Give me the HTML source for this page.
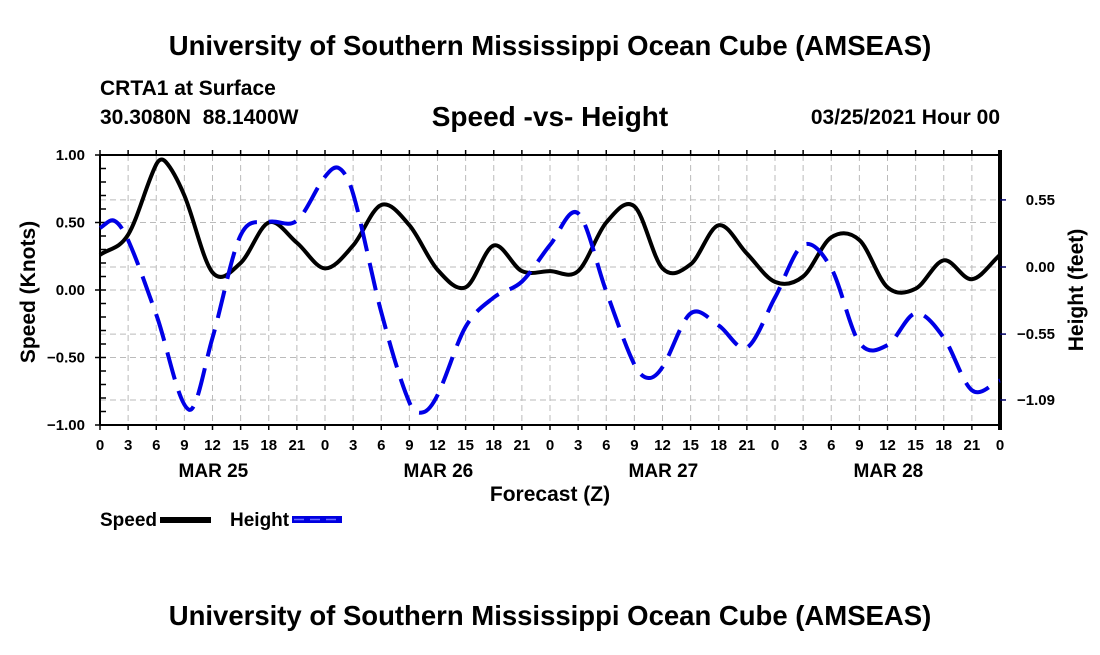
<!DOCTYPE html>
<html><head><meta charset="utf-8"><style>
body{margin:0;background:#fff;width:1100px;height:650px;overflow:hidden}
svg text{font-family:"Liberation Sans",sans-serif;font-weight:bold;fill:#000}
</style></head><body>
<svg id="chart" width="1100" height="650" viewBox="0 0 1100 650" xmlns="http://www.w3.org/2000/svg">
<rect width="1100" height="650" fill="#fff"/>
<text x="550" y="55" font-size="27.5" text-anchor="middle">University of Southern Mississippi Ocean Cube (AMSEAS)</text>
<text x="100" y="95" font-size="21">CRTA1 at Surface</text>
<text x="100" y="124" font-size="21">30.3080N&#160;&#160;88.1400W</text>
<text x="550" y="126" font-size="28" text-anchor="middle">Speed -vs- Height</text>
<text x="1000" y="124" font-size="21" text-anchor="end">03/25/2021 Hour 00</text>
<g id="grid"></g>
<g id="axes"></g>
<g id="series"></g>
<text transform="translate(35,292) rotate(-90)" font-size="21" text-anchor="middle">Speed (Knots)</text>
<text transform="translate(1083,290) rotate(-90)" font-size="21" text-anchor="middle">Height (feet)</text>
<text x="550" y="501" font-size="21" text-anchor="middle">Forecast (Z)</text>
<g>
<text x="100" y="526" font-size="19">Speed</text>
<rect x="160" y="517" width="51" height="6" fill="#000"/>
<text x="230" y="526" font-size="19">Height</text>
<rect x="292" y="516" width="50" height="7" fill="#0000e0"/>
<line x1="294" y1="519.5" x2="342" y2="519.5" stroke="#6a6aff" stroke-width="1.5" stroke-dasharray="10,6"/>
</g>
<text x="550" y="625" font-size="27.5" text-anchor="middle">University of Southern Mississippi Ocean Cube (AMSEAS)</text>
</svg>
<script>
const speedHours=[0,3,6,7,9,12,15,18,21,24,27,30,33,36,39,42,45,48,51,54,57,60,63,66,69,72,75,78,81,84,87,90,93,96];
const speedValues=[0.26,0.41,0.93,0.95,0.70,0.13,0.2,0.5,0.35,0.16,0.33,0.63,0.48,0.15,0.02,0.33,0.14,0.14,0.14,0.5,0.62,0.16,0.19,0.48,0.27,0.06,0.1,0.39,0.37,0.02,0.01,0.22,0.08,0.26];
const heightHours=[0,1.5,3,6,9.5,12,15,18,21,24,25.5,27,30,33,34.5,36,39,42,45,48,51,54,57,58.5,60,63,66,69,72,75,78,81,84,87,90,93,96];
const heightValues=[0.32,0.38,0.22,-0.39,-1.17,-0.58,0.26,0.37,0.38,0.74,0.81,0.6,-0.37,-1.11,-1.19,-1.05,-0.49,-0.25,-0.12,0.18,0.44,-0.2,-0.80,-0.91,-0.82,-0.38,-0.48,-0.66,-0.25,0.18,-0.01,-0.62,-0.64,-0.38,-0.58,-1.01,-0.93];
const xTickLabels=["0","3","6","9","12","15","18","21"];
const dayLabels=["MAR 25","MAR 26","MAR 27","MAR 28"];
const leftTicks=[1,0.5,0,-0.5,-1];
const leftTickLabels=["1.00","0.50","0.00","\u22120.50","\u22121.00"];
const rightTicks=[0.55,0,-0.55,-1.09];
const rightTickLabels=["0.55","0.00","\u22120.55","\u22121.09"];

const NS="http://www.w3.org/2000/svg";
const X0=100,X1=1000,Y0=155,Y1=425;
const xs=h=>X0+(X1-X0)*h/96;
const ys=v=>290-135*v;
const yh=v=>267-122*v;
function mk(tag,attrs,parent){const e=document.createElementNS(NS,tag);for(const k in attrs)e.setAttribute(k,attrs[k]);parent.appendChild(e);return e;}
const grid=document.getElementById('grid'),axes=document.getElementById('axes'),series=document.getElementById('series');
for(let h=3;h<96;h+=3){const l=mk('line',{x1:xs(h),x2:xs(h),y1:Y0,y2:Y1,stroke:'#bbb','stroke-width':1,'stroke-dasharray':'6,4'},grid);

}
leftTicks.forEach(v=>{if(v===1||v===-1)return;const l=mk('line',{x1:X0,x2:X1,y1:ys(v),y2:ys(v),stroke:'#bbb','stroke-width':1,'stroke-dasharray':'6,4'},grid);

});
rightTicks.forEach(v=>{const l=mk('line',{x1:X0,x2:X1,y1:yh(v),y2:yh(v),stroke:'#bbb','stroke-width':1,'stroke-dasharray':'6,4'},grid);

});
mk('line',{x1:X0,x2:X1,y1:Y0,y2:Y0,stroke:'#000','stroke-width':2},axes);
mk('line',{x1:X0,x2:X1,y1:Y1,y2:Y1,stroke:'#000','stroke-width':2},axes);
mk('line',{x1:X0,x2:X0,y1:Y0,y2:Y1,stroke:'#000','stroke-width':2},axes);
mk('line',{x1:X1,x2:X1,y1:Y0-5,y2:Y1+5,stroke:'#000','stroke-width':4},axes);
for(let h=0;h<=96;h+=3){
mk('line',{x1:xs(h),x2:xs(h),y1:Y0-5,y2:Y0,stroke:'#000','stroke-width':1.5},axes);
mk('line',{x1:xs(h),x2:xs(h),y1:Y1,y2:Y1+5,stroke:'#000','stroke-width':1.5},axes);
const t=mk('text',{x:xs(h),y:450,'font-size':15,'text-anchor':'middle'},axes);
t.textContent=xTickLabels[(h/3)%8];

}
dayLabels.forEach((d,i)=>{const t=mk('text',{x:xs(9+24*i)+29,y:477,'font-size':19,'text-anchor':'middle'},axes);
t.textContent=d;

});
for(let v=-1;v<=1.001;v+=0.1){mk('line',{x1:X0,x2:X0+6,y1:ys(v),y2:ys(v),stroke:'#000','stroke-width':1.5},axes);}
leftTicks.forEach((v,i)=>{mk('line',{x1:X0-5,x2:X0,y1:ys(v),y2:ys(v),stroke:'#000','stroke-width':1.5},axes);
const t=mk('text',{x:85,y:ys(v)+5,'font-size':15,'text-anchor':'end'},axes);
t.textContent=leftTickLabels[i];

});
rightTicks.forEach((v,i)=>{mk('line',{x1:X1,x2:X1+6,y1:yh(v),y2:yh(v),stroke:'#000066','stroke-width':1.5},axes);
const t=mk('text',{x:1055,y:yh(v)+5,'font-size':15,'text-anchor':'end'},axes);
t.textContent=rightTickLabels[i];

});
// non-uniform cubic Hermite (Catmull-Rom style tangents)
function path(ts,vs,fx,fy){const n=ts.length,m=[];
for(let i=0;i<n;i++){const a=Math.max(0,i-1),b=Math.min(n-1,i+1);m.push((vs[b]-vs[a])/(ts[b]-ts[a]));}
let d='M'+fx(ts[0])+','+fy(vs[0]);
for(let i=0;i<n-1;i++){const dt=ts[i+1]-ts[i];
d+=' C'+fx(ts[i]+dt/3)+','+fy(vs[i]+m[i]*dt/3)+' '+fx(ts[i+1]-dt/3)+','+fy(vs[i+1]-m[i+1]*dt/3)+' '+fx(ts[i+1])+','+fy(vs[i+1]);}
return d;}
const sp=mk('path',{d:path(speedHours,speedValues,xs,ys),fill:'none',stroke:'#000','stroke-width':4,'stroke-linejoin':'round'},series);


const hp=mk('path',{d:path(heightHours,heightValues,xs,yh),fill:'none',stroke:'#0000e6','stroke-width':4,'stroke-dasharray':'28,12'},series);


</script>
</body></html>
